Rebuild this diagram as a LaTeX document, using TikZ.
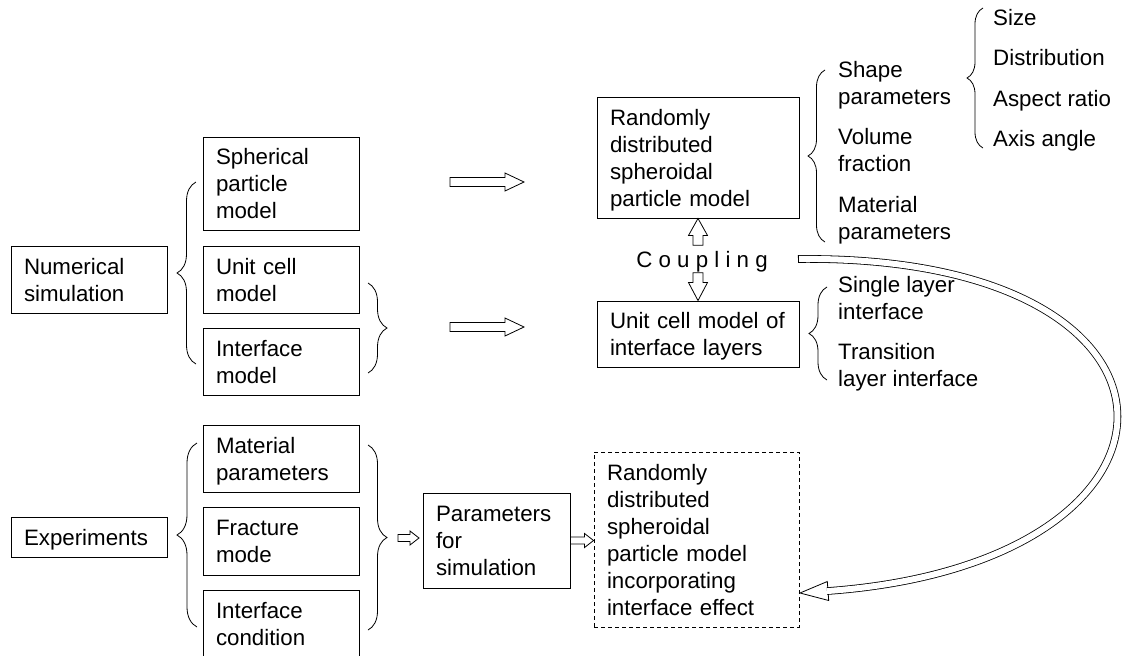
\documentclass[tikz,border=0pt]{standalone}
\usepackage{fontspec}
\setmainfont{Liberation Sans}
\usetikzlibrary{calc,decorations.pathreplacing}
\newcommand{\lstrut}{\rule[-5.5pt]{0pt}{27pt}}
\tikzset{
  txt/.style={font=\fontsize{22.3}{27}\selectfont, align=left, inner sep=0pt,
    execute at begin node=\lstrut, execute at end node=\lstrut},
  box/.style 2 args={txt, draw, line width=0.9pt, inner xsep=13pt,
    text width=#1pt, minimum height=#2pt},
  lbl/.style={txt, anchor=west},
  brc/.style={decorate, decoration={brace, amplitude=#1}, line width=0.8pt},
  blockarrow/.style n args={3}{line width=0.8pt, to path={
    ($(\tikztostart)!#1!90:(\tikztotarget)$)
    -- ($(\tikztotarget)!#3!(\tikztostart)!#1!-90:(\tikztostart)$)
    -- ($(\tikztotarget)!#3!(\tikztostart)!#2!-90:(\tikztostart)$)
    -- (\tikztotarget)
    -- ($(\tikztotarget)!#3!(\tikztostart)!#2!90:(\tikztostart)$)
    -- ($(\tikztotarget)!#3!(\tikztostart)!#1!90:(\tikztostart)$)
    -- ($(\tikztostart)!#1!-90:(\tikztotarget)$)
    -- cycle}}
}
\begin{document}
\begin{tikzpicture}[x=1pt,y=-1pt]
\useasboundingbox (0,0) rectangle (1125,656);
\node[box={130}{67}] (numsim) at (89,279.5) {Numerical\\simulation};
\node[box={130}{40}] (exper) at (89,537) {Experiments};
\node[box={130}{93}] (sphere) at (281,183.5) {Spherical\\particle\\model};
\node[box={130}{67}] (unitcell) at (281,279.5) {Unit cell\\model};
\node[box={130}{67}] (iface) at (281,361.5) {Interface\\model};
\node[box={130}{67}] (matpar) at (281,458.5) {Material\\parameters};
\node[box={130}{68}] (fracture) at (281,541) {Fracture\\mode};
\node[box={130}{67}] (ifcond) at (281,623.5) {Interface\\condition};
\node[box={176}{121}] (randsph) at (698,157.5) {Randomly\\distributed\\spheroidal\\particle model};
\node[box={176}{66}] (ucmodel) at (698,334) {Unit cell model of\\interface layers};
\node[box={121}{95}] (simpar) at (496.5,540.5) {Parameters\\for\\simulation};
\node[box={179}{175}, dash pattern=on 4pt off 3pt] (randint) at (696.5,539.5) {Randomly\\distributed\\spheroidal\\particle model\\incorporating\\interface effect};
\node[txt] (cpl) at (702,259) {C o u p l i n g};
\node[lbl] (shapepar) at (838,85.5) {Shape\\parameters};
\node[lbl] (volfrac) at (838,152.5) {Volume\\fraction};
\node[lbl] (mpar) at (838,220.5) {Material\\parameters};
\node[lbl] (size) at (993,17) {Size};
\node[lbl] (distr) at (993,57) {Distribution};
\node[lbl] (aspect) at (993,98) {Aspect ratio};
\node[lbl] (axis) at (993,138) {Axis angle};
\node[lbl] (single) at (838,300.5) {Single layer\\interface};
\node[lbl] (trans) at (838,367.5) {Transition\\layer interface};
\draw[brc=19pt] (196,364) -- (196,182);
\draw[brc=19pt] (368,283) -- (368,373);
\draw[brc=20pt] (197,627) -- (197,443);
\draw[brc=19pt] (368,445) -- (368,630);
\draw[brc=17pt] (825,242) -- (825,70);
\draw[brc=16pt] (983,148) -- (983,8);
\draw[brc=18pt] (827,380) -- (827,287);
\coordinate (a1s) at (450,182);
\coordinate (a1e) at (524,182);
\coordinate (a2s) at (450,327);
\coordinate (a2e) at (524,327);
\coordinate (a3s) at (398,538);
\coordinate (a3e) at (419,538);
\draw[blockarrow={4.5pt}{9pt}{19pt}] (a1s) to (a1e);
\draw[blockarrow={4.5pt}{9pt}{19pt}] (a2s) to (a2e);
\draw[blockarrow={5pt}{9.5pt}{17pt}] (randsph.south |- cpl.north) to (randsph.south);
\draw[blockarrow={5pt}{9.5pt}{18pt}] (ucmodel.north |- cpl.south) to (ucmodel.north);
\draw[blockarrow={3.5pt}{7pt}{9pt}] (a3s) to (a3e);
\draw[blockarrow={3.5pt}{7pt}{9pt}] (simpar.east) to (simpar.east -| randint.west);
\coordinate (cstart) at (798,259);
\coordinate (hdtip) at (800,593);
\draw[line width=0.8pt, fill=white] (827.3,581.5) -- (hdtip) -- (828.7,600.5) -- cycle;
\draw[line width=0.8pt, double, double distance=6pt] (cstart) .. controls (1220,254) and (1218,563) .. (827,591.07);
\draw[line width=0.8pt] ([yshift=3.8pt]cstart) -- ([yshift=-3.8pt]cstart);
\end{tikzpicture}
\end{document}
